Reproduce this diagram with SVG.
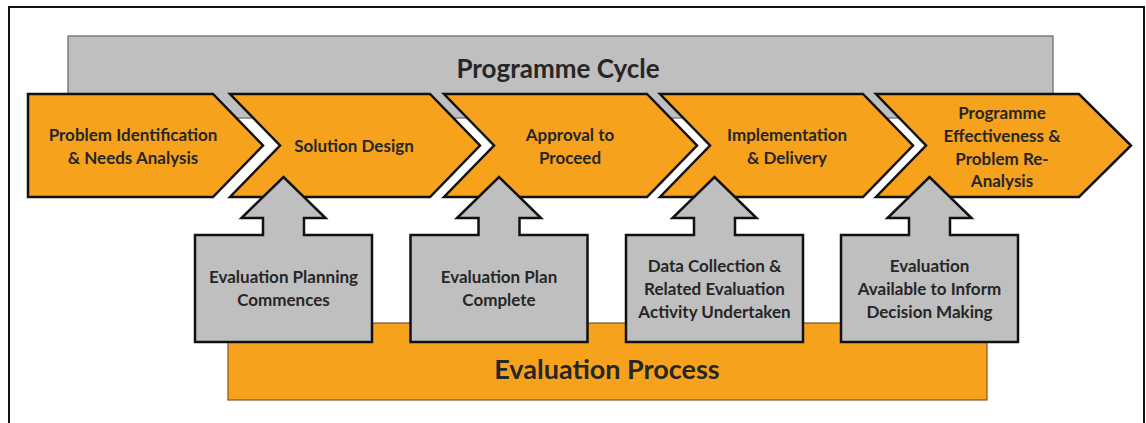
<svg xmlns="http://www.w3.org/2000/svg" width="1146" height="423" viewBox="0 0 1146 423">
<style>
.chev{fill:#F7A21D;stroke:#111;stroke-width:2.5;stroke-linejoin:miter}
.box{fill:#BFBFBF;stroke:#111;stroke-width:2.5;stroke-linejoin:miter}
.t{font-family:Lato,"Open Sans","Liberation Sans",sans-serif;font-weight:bold;fill:#262626;text-anchor:middle}
.s{font-size:17px}
</style>
<rect width="1146" height="423" fill="#fff"/>
<rect x="9" y="7" width="1135" height="440" fill="none" stroke="#111" stroke-width="2"/>
<g id="programme-cycle">
<rect x="68" y="36" width="985" height="82" fill="#BFBFBF" stroke="#7f7f7f" stroke-width="1.5"/>
<text class="t" x="558" y="78" font-size="26">Programme Cycle</text>
</g>
<g id="evaluation-process">
<rect x="228" y="323" width="759" height="77" fill="#F7A21D" stroke="#7a5530" stroke-width="1.2"/>
<text class="t" x="607" y="379" font-size="27">Evaluation Process</text>
</g>
<g id="stage1">
<path class="chev" d="M28,94 L213,94 L263,145.5 L213,197 L28,197 Z"/>
<text class="t s" x="133" y="141">Problem Identification</text>
<text class="t s" x="133" y="164">&amp; Needs Analysis</text>
</g>
<g id="stage2">
<path class="chev" d="M230,94 L430,94 L480,145.5 L430,197 L230,197 L280,145.5 Z"/>
<text class="t s" x="354" y="152">Solution Design</text>
</g>
<g id="stage3">
<path class="chev" d="M444,94 L647,94 L697,145.5 L647,197 L444,197 L494,145.5 Z"/>
<text class="t s" x="570" y="141">Approval to</text>
<text class="t s" x="570" y="164">Proceed</text>
</g>
<g id="stage4">
<path class="chev" d="M660,94 L863,94 L913,145.5 L863,197 L660,197 L710,145.5 Z"/>
<text class="t s" x="787" y="141">Implementation</text>
<text class="t s" x="787" y="164">&amp; Delivery</text>
</g>
<g id="stage5">
<path class="chev" d="M876,94 L1079,94 L1131,145.5 L1079,197 L876,197 L926,145.5 Z"/>
<text class="t s" x="1002" y="119">Programme</text>
<text class="t s" x="1002" y="142">Effectiveness &amp;</text>
<text class="t s" x="1002" y="165">Problem Re-</text>
<text class="t s" x="1002" y="187">Analysis</text>
</g>
<g id="connectors"></g>
<g id="eval1">
<path class="box" d="M195,235 L263,235 L263,218 L241.5,218 L283.5,177 L325.5,218 L304,218 L304,235 L372,235 L372,342 L195,342 Z"/>
<text class="t s" x="283.5" y="283">Evaluation Planning</text>
<text class="t s" x="283.5" y="306">Commences</text>
</g>
<g id="eval2">
<path class="box" d="M410.5,235 L478.5,235 L478.5,218 L457,218 L499,177 L541,218 L519.5,218 L519.5,235 L587.5,235 L587.5,342 L410.5,342 Z"/>
<text class="t s" x="499" y="283">Evaluation Plan</text>
<text class="t s" x="499" y="306">Complete</text>
</g>
<g id="eval3">
<path class="box" d="M626,235 L694,235 L694,218 L672.5,218 L714.5,177 L756.5,218 L735,218 L735,235 L803,235 L803,342 L626,342 Z"/>
<text class="t s" x="714.5" y="272">Data Collection &amp;</text>
<text class="t s" x="714.5" y="295">Related Evaluation</text>
<text class="t s" x="714.5" y="318">Activity Undertaken</text>
</g>
<g id="eval4">
<path class="box" d="M841,235 L909,235 L909,218 L887.5,218 L929.5,177 L971.5,218 L950,218 L950,235 L1018,235 L1018,342 L841,342 Z"/>
<text class="t s" x="929.5" y="272">Evaluation</text>
<text class="t s" x="929.5" y="295">Available to Inform</text>
<text class="t s" x="929.5" y="318">Decision Making</text>
</g>
</svg>
